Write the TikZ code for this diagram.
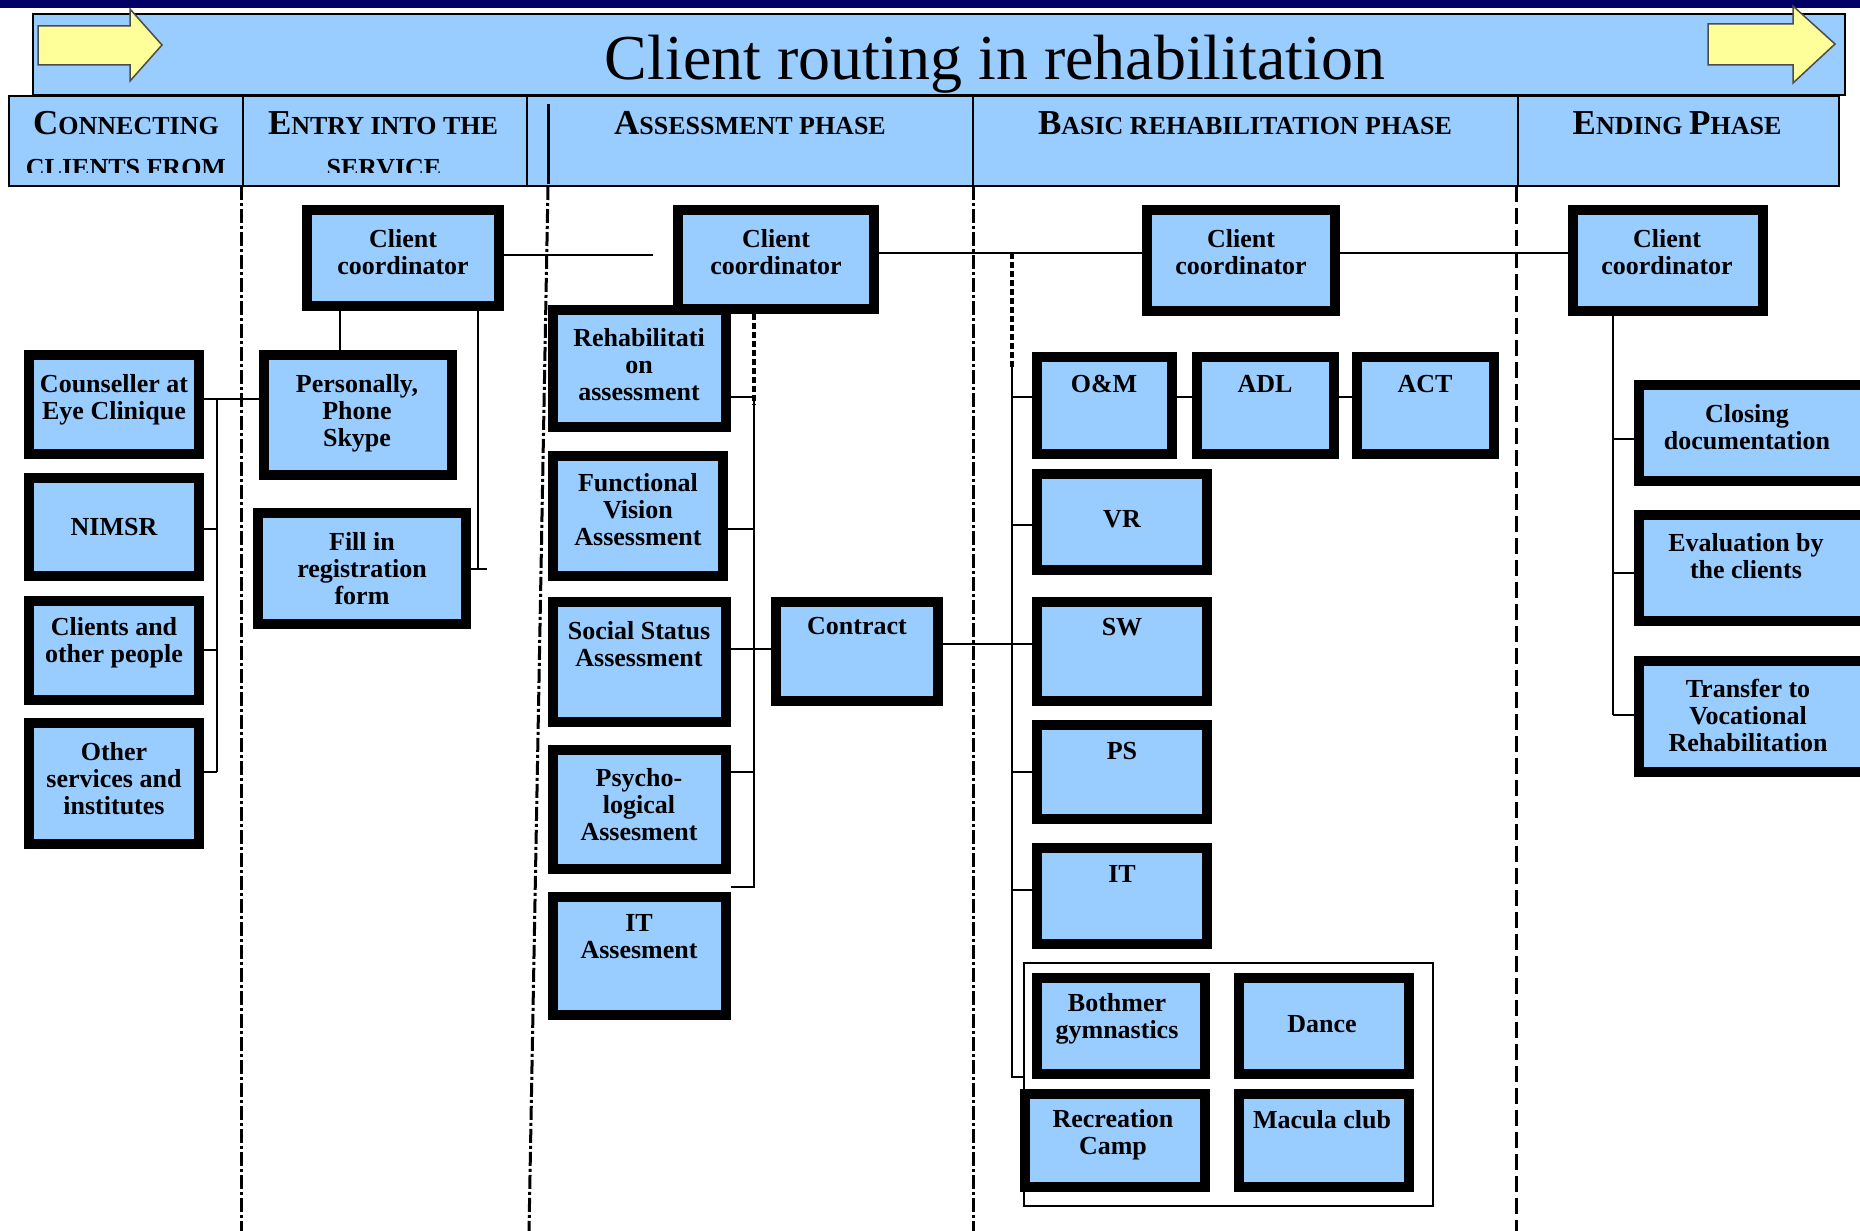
\documentclass[tikz,border=0pt]{standalone}
\usepackage{fontspec}
\setmainfont{Liberation Serif}
\definecolor{boxblue}{HTML}{99CCFF}
\definecolor{arrowyellow}{HTML}{FFFF99}
\definecolor{navyband}{HTML}{000066}
\tikzset{
  box/.style={draw=black, line width=10pt, fill=boxblue, rectangle, inner sep=0pt},
  band/.style={draw=black, line width=1.5pt, fill=boxblue, rectangle, inner sep=0pt},
  grpframe/.style={draw=black, line width=2pt, rectangle, inner sep=0pt},
  lbl/.style={font=\bfseries\fontsize{26}{27}\selectfont, align=center, inner sep=0pt},
  hdr/.style={font=\bfseries, inner sep=0pt, anchor=base},
  conn/.style={line width=2pt, black},
  dconn/.style={line width=3.5pt, black, dash pattern=on 6pt off 3pt},
  sepA/.style={line width=3pt, black, dash pattern=on 14pt off 3pt on 3pt off 3pt},
  sepB/.style={line width=3pt, black, dash pattern=on 16pt off 6pt},
  bigarrow/.style={draw=black!70, line width=1.5pt, fill=arrowyellow},
}
\newcommand\flowbox[5]{\node[box, minimum width={#4-#2-10}, minimum height={#5-#3-10}] (#1) at ({(#2+#4)/2},{(#3+#5)/2}) {};}
\newcommand\hdsc[2]{{\fontsize{35}{40}\selectfont #1}{\fontsize{26}{40}\selectfont #2}}
\begin{document}
\begin{tikzpicture}[x=1pt,y=-1pt]
\useasboundingbox (0,0) rectangle (1860,1231);
\clip (0,0) rectangle (1860,1231);
\fill[white] (0,0) rectangle (1860,1231);
\fill[navyband] (0,0) rectangle (1860,8);

% title bar
\node[band, minimum width=1812, minimum height=81] (titlebar) at (939,54.5) {};
\node[anchor=base, inner sep=0pt, font=\fontsize{64}{70}\selectfont] (title) at (995,80) {Client routing in rehabilitation};
\draw[bigarrow] (38,26) -- (130,26) -- (130,9) -- (162,45) -- (130,81) -- (130,65) -- (38,65) -- cycle;
\draw[bigarrow] (1708,24) -- (1793,24) -- (1793,6) -- (1835,44) -- (1793,83) -- (1793,65) -- (1708,65) -- cycle;

% header cells
\node[band, minimum width=234, minimum height=90] (hc1) at (126,141) {};
\node[band, minimum width=284, minimum height=90] (hc2) at (385,141) {};
\node[band, minimum width=446, minimum height=90] (hc3) at (750,141) {};
\node[band, minimum width=545, minimum height=90] (hc4) at (1245.5,141) {};
\node[band, minimum width=321, minimum height=90] (hc5) at (1678.5,141) {};
\draw[line width=3pt] (548,104) -- (548,184);
\begin{scope}
\clip (0,96) rectangle (1860,172);
\node[hdr] (h1a) at (126,134) {\hdsc{C}{ONNECTING}};
\node[hdr] (h1b) at (126,176) {\hdsc{}{CLIENTS FROM}};
\node[hdr] (h2a) at (383,134) {\hdsc{E}{NTRY INTO THE}};
\node[hdr] (h2b) at (384,176) {\hdsc{}{SERVICE}};
\node[hdr] (h3a) at (750,134) {\hdsc{A}{SSESSMENT PHASE}};
\node[hdr] (h4a) at (1245,134) {\hdsc{B}{ASIC REHABILITATION PHASE}};
\node[hdr] (h5a) at (1677,134) {\hdsc{E}{NDING }\hdsc{P}{HASE}};
\end{scope}

% phase separators
\draw[sepA] (241,186) -- (241,1231);
\draw[sepA] (548,186) -- (529,1231);
\draw[sepA] (973,186) -- (973,1231);
\draw[sepB] (1516,186) -- (1516,1231);

% column 1
\flowbox{cnsl}{24}{350}{204}{459}
\flowbox{nimsr}{24}{473}{204}{581}
\flowbox{clients}{24}{596}{204}{705}
\flowbox{other}{24}{718}{204}{849}
\node[lbl] (cnsl-t) at (114,400) {Counseller at\\Eye Clinique};
\node[lbl] (nimsr-t) at (114,527) {NIMSR};
\node[lbl] (clients-t) at (114,643) {Clients and\\other people};
\node[lbl] (other-t) at (114,779) {Other\\services and\\institutes};

% column 2
\flowbox{coorda}{302}{205}{504}{311}
\flowbox{pers}{259}{350}{457}{480}
\flowbox{fillin}{253}{508}{471}{629}
\node[lbl] (coorda-t) at (403,252) {Client\\coordinator};
\node[lbl] (pers-t) at (357,413) {Personally,\\Phone\\Skype};
\node[lbl] (fillin-t) at (362,569) {Fill in\\registration\\form};

% column 3
\flowbox{rehab}{548}{305}{731}{432}
\flowbox{coordb}{673}{205}{879}{314}
\flowbox{fva}{548}{451}{728}{581}
\flowbox{ssa}{548}{597}{731}{727}
\flowbox{psych}{548}{745}{731}{874}
\flowbox{itass}{548}{892}{731}{1020}
\flowbox{contract}{771}{597}{943}{706}
\node[lbl] (coordb-t) at (776,252) {Client\\coordinator};
\node[lbl] (rehab-t) at (639,365) {Rehabilitati\\on\\assessment};
\node[lbl] (fva-t) at (638,510) {Functional\\Vision\\Assessment};
\node[lbl] (ssa-t) at (639,644) {Social Status\\Assessment};
\node[lbl] (psych-t) at (639,805) {Psycho-\\logical\\Assesment};
\node[lbl] (itass-t) at (639,937) {IT\\Assesment};
\node[lbl] (contract-t) at (857,626) {Contract};

% column 4
\flowbox{coordc}{1142}{205}{1340}{316}
\flowbox{om}{1032}{352}{1177}{459}
\flowbox{adl}{1192}{352}{1339}{459}
\flowbox{act}{1352}{352}{1499}{459}
\flowbox{vr}{1032}{469}{1212}{575}
\flowbox{sw}{1032}{597}{1212}{706}
\flowbox{ps}{1032}{720}{1212}{824}
\flowbox{it}{1032}{843}{1212}{949}
\node[grpframe, minimum width=409, minimum height=243] (grp) at (1228.5,1084.5) {};
\flowbox{bothmer}{1032}{973}{1210}{1079}
\flowbox{dance}{1234}{973}{1414}{1079}
\flowbox{recr}{1020}{1089}{1210}{1192}
\flowbox{macula}{1234}{1089}{1414}{1192}
\node[lbl] (coordc-t) at (1241,252) {Client\\coordinator};
\node[lbl] (om-t) at (1104,384) {O\&M};
\node[lbl] (adl-t) at (1265,384) {ADL};
\node[lbl] (act-t) at (1425,384) {ACT};
\node[lbl] (vr-t) at (1122,519) {VR};
\node[lbl] (sw-t) at (1122,627) {SW};
\node[lbl] (ps-t) at (1122,751) {PS};
\node[lbl] (it-t) at (1122,874) {IT};
\node[lbl] (bothmer-t) at (1117,1019) {Bothmer\\gymnastics};
\node[lbl] (dance-t) at (1322,1024) {Dance};
\node[lbl] (recr-t) at (1113,1135) {Recreation\\Camp};
\node[lbl] (macula-t) at (1322,1120) {Macula club};

% column 5
\flowbox{coordd}{1568}{205}{1768}{316}
\flowbox{closing}{1634}{380}{1885}{486}
\flowbox{eval}{1634}{510}{1885}{626}
\flowbox{transfer}{1634}{656}{1885}{777}
\node[lbl] (coordd-t) at (1667,252) {Client\\coordinator};
\node[lbl] (closing-t) at (1747,427) {Closing\\documentation};
\node[lbl] (eval-t) at (1746,556) {Evaluation by\\the clients};
\node[lbl] (transfer-t) at (1748,715) {Transfer to\\Vocational\\Rehabilitation};

% connectors column 1 -> 2
\draw[conn] (cnsl.east |- 0,399) -- (pers.west |- 0,399);
\draw[conn] (217,399) -- (217,772);
\draw[conn] (nimsr.east |- 0,529) -- (217,529);
\draw[conn] (clients.east |- 0,650) -- (217,650);
\draw[conn] (other.east |- 0,772) -- (217,772);

% column 2
\draw[conn] (coorda.south -| 340,0) -- (pers.north -| 340,0);
\draw[conn] (coorda.south -| 478,0) -- (478,569);
\draw[conn] (fillin.east |- 0,569) -- (487,569);
\draw[conn, shorten >=20pt] (coorda.east |- 0,255) -- (coordb.west |- 0,255);

% column 3
\draw[dconn] (coordb.south -| 754,0) -- (754,405);
\draw[conn] (754,397) -- (754,887) -- (itass.north east |- 0,887);
\draw[conn] (rehab.east |- 0,397) -- (754,397);
\draw[conn] (fva.east |- 0,529) -- (754,529);
\draw[conn] (ssa.east |- 0,649) -- (contract.west |- 0,649);
\draw[conn] (psych.east |- 0,772) -- (754,772);
\draw[conn] (contract.east |- 0,644) -- (sw.west |- 0,644);
\draw[conn] (coordb.east |- 0,253) -- (coordc.west |- 0,253);

% column 4
\draw[dconn] (1012,253) -- (1012,368);
\draw[conn] (1012,366) -- (1012,1077) -- (grp.west |- 0,1077);
\draw[conn] (1012,397) -- (om.west |- 0,397);
\draw[conn] (om.east |- 0,397) -- (adl.west |- 0,397);
\draw[conn] (adl.east |- 0,397) -- (act.west |- 0,397);
\draw[conn] (1012,525) -- (vr.west |- 0,525);
\draw[conn] (1012,772) -- (ps.west |- 0,772);
\draw[conn] (1012,890) -- (it.west |- 0,890);
\draw[conn] (coordc.east |- 0,253) -- (coordd.west |- 0,253);

% column 5
\draw[conn] (coordd.south -| 1613,0) -- (1613,715);
\draw[conn] (1613,439) -- (closing.west |- 0,439);
\draw[conn] (1613,573) -- (eval.west |- 0,573);
\draw[conn] (1613,715) -- (transfer.west |- 0,715);
\end{tikzpicture}
\end{document}
